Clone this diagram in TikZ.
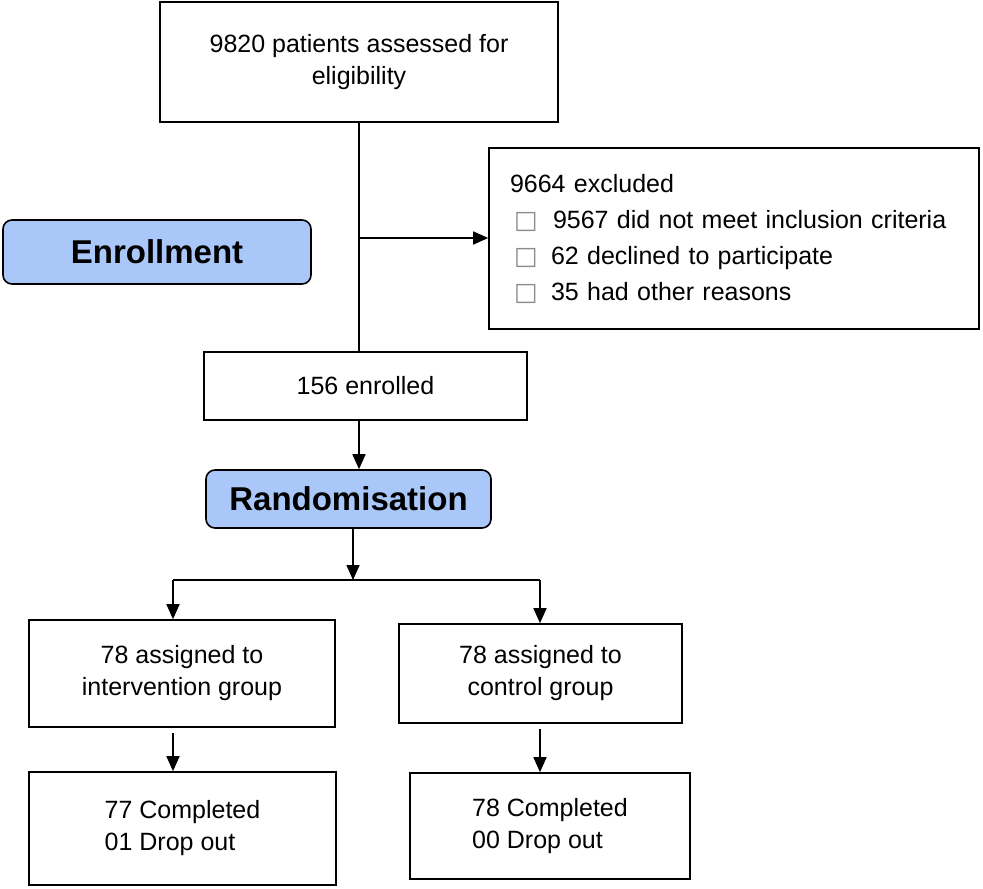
\documentclass[tikz,border=0pt]{standalone}
\usepackage{fontspec}
\setmainfont{Liberation Sans}
\newfontfamily\symfont{DejaVu Sans}
\usetikzlibrary{arrows.meta}
\definecolor{stageblue}{RGB}{170,199,250}
\newcommand{\bul}{{\symfont\fontsize{25}{25}\selectfont\color{black!45}□}}

\begin{document}
\begin{tikzpicture}[x=1pt,y=-1pt,
			plain box/.style={draw,line width=1.6pt,fill=white,inner sep=0pt,align=center,font=\fontsize{25}{32}\selectfont},
			stage box/.style={draw,line width=1.6pt,fill=stageblue,rounded corners=9pt,inner sep=0pt,font=\fontsize{33}{40}\selectfont\bfseries},
			line width=1.6pt,>={Triangle[length=15pt,width=13pt]}]
			\useasboundingbox (0,0) rectangle (983,889);
			\node[plain box,minimum width=398pt,minimum height=120pt] (screened) at (359,62) {9820 patients assessed for\\eligibility};
			\node[plain box,minimum width=490pt,minimum height=181pt,text width=448pt,align=left,font=\fontsize{25}{36}\selectfont] (excluded) at (734,238.5)
				{9664 excluded\\
				\hspace*{4pt}\makebox[39pt][l]{\bul}9567 did not meet inclusion criteria\\
				\hspace*{4pt}\makebox[37pt][l]{\bul}62 declined to participate\\
				\hspace*{4pt}\makebox[37pt][l]{\bul}35 had other reasons};
			\node[stage box,minimum width=308pt,minimum height=64pt] (enrollment) at (157,252) {Enrollment};
			\node[plain box,minimum width=323pt,minimum height=68pt] (enrolled) at (365.5,386) {156 enrolled};
			\node[stage box,minimum width=285pt,minimum height=58pt] (randomisation) at (348.5,499) {Randomisation};
			\node[plain box,minimum width=306pt,minimum height=107pt] (intervention) at (182,673.5) {78 assigned to\\intervention group};
			\node[plain box,minimum width=283pt,minimum height=99pt] (control) at (540.5,673.5) {78 assigned to\\control group};
			\node[plain box,minimum width=307pt,minimum height=113pt,align=left] (done_i) at (182.5,828.5) {77 Completed\\01 Drop out};
			\node[plain box,minimum width=280pt,minimum height=106pt,align=left] (done_c) at (550,826) {78 Completed\\00 Drop out};

			\coordinate (split) at (359,238);
			\coordinate (fork) at (353,580);
			\coordinate (fork_i) at (173,580);
			\coordinate (fork_c) at (540,580);
			\draw (screened.south -| split) -- (enrolled.north -| split);
			\draw[->] (split) -- (split -| excluded.west);
			\draw[->] (enrolled.south -| split) -- (randomisation.north -| split);
			\draw[->] (randomisation.south -| fork) -- (fork);
			\draw (fork_i) -- (fork_c);
			\draw[->] (fork_i) -- (fork_i |- intervention.north);
			\draw[->] (fork_c) -- (fork_c |- control.north);
			\draw[->,shorten <=5pt] (intervention.south -| fork_i) -- (done_i.north -| fork_i);
			\draw[->,shorten <=5pt] (control.south -| fork_c) -- (done_c.north -| fork_c);
		\end{tikzpicture}
\end{document}
